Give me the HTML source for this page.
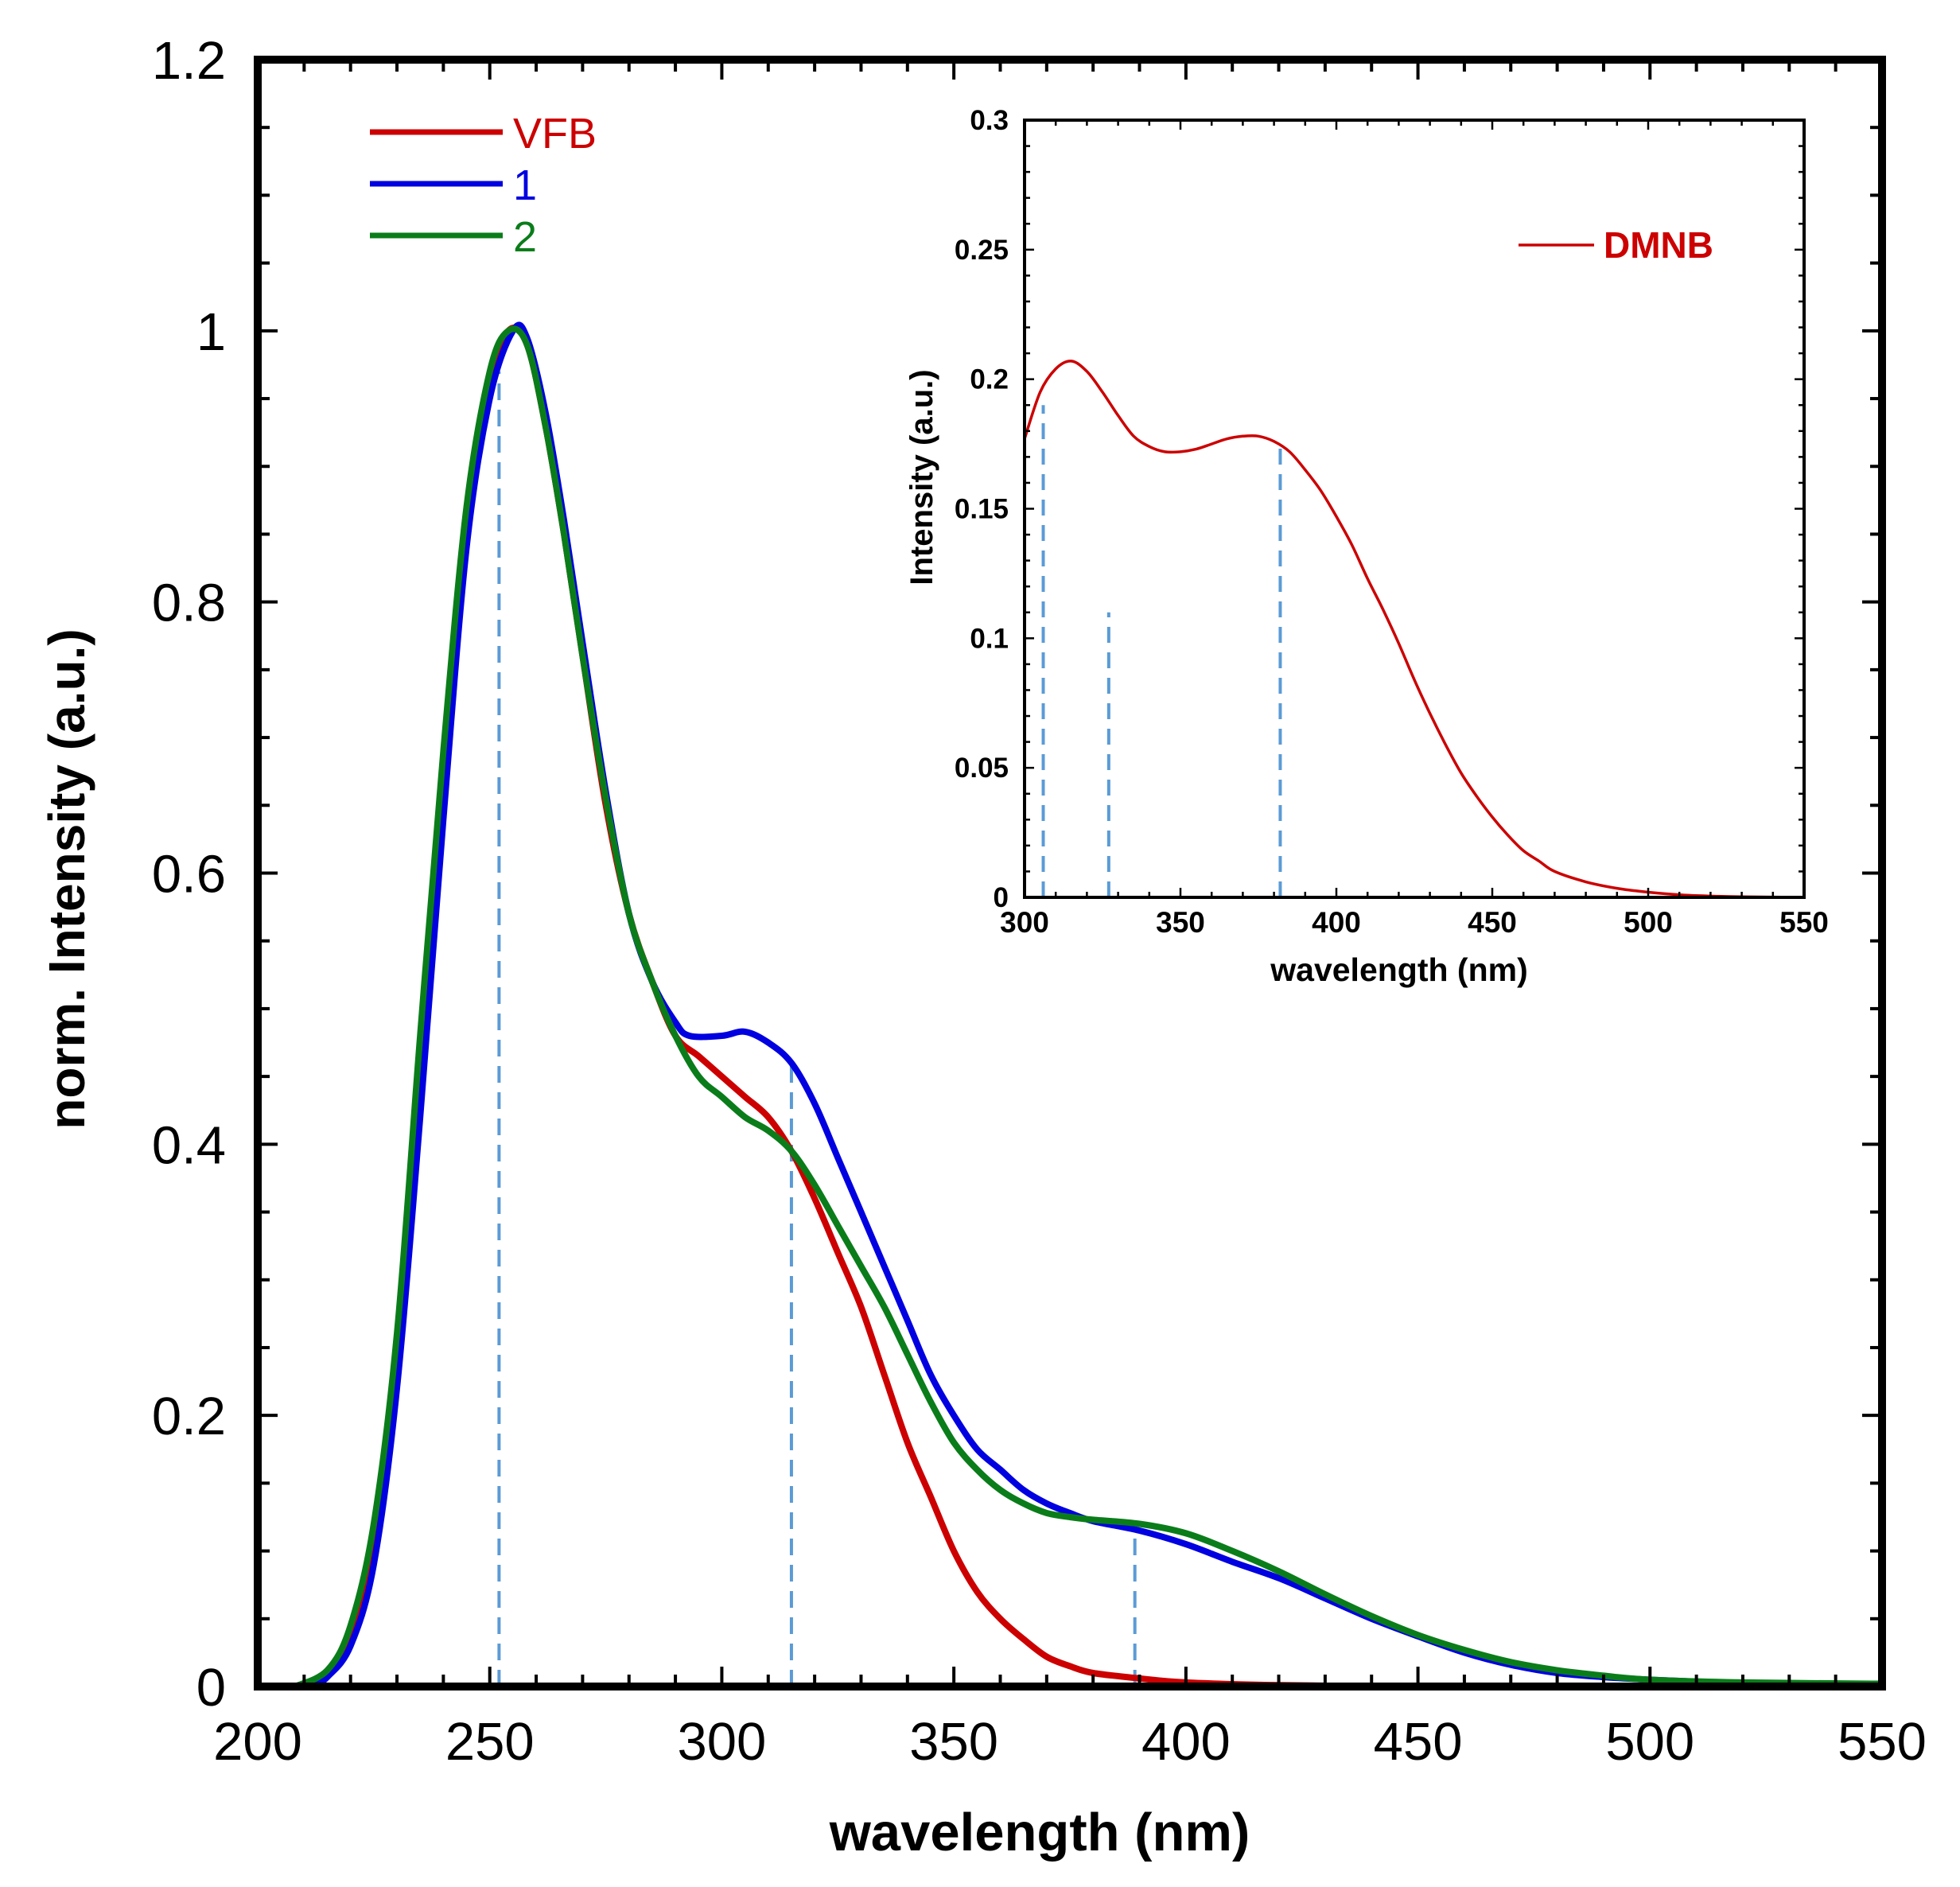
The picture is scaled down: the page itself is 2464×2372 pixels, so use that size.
<!DOCTYPE html>
<html><head><meta charset="utf-8"><style>
html,body{margin:0;padding:0;background:#fff;}
svg{display:block;font-family:"Liberation Sans",Arial,sans-serif;}
</style></head><body>
<svg id="chart" width="2464" height="2372" viewBox="0 0 2464 2372" xmlns="http://www.w3.org/2000/svg">
<g id="main"></g>
<g id="inset"></g>
</svg>
<script>
// ---- main chart data ----
const vfbX = [210,215,220,225,230,235,240,245,250,254,258,262,266,270,275,280,285,290,295,300,305,310,315,320,325,330,335,340,345,350,355,360,365,370,375,380,390,400,420,450];
const vfbY = [0,0.01,0.04,0.11,0.25,0.47,0.68,0.86,0.96,1.0,0.99,0.93,0.85,0.76,0.65,0.57,0.52,0.48,0.465,0.45,0.435,0.42,0.395,0.36,0.32,0.28,0.23,0.18,0.14,0.10,0.07,0.05,0.035,0.022,0.015,0.01,0.006,0.003,0.001,0];
const s1X = [212,215,220,225,230,235,240,245,250,255,258,262,266,270,275,280,285,290,293,300,305,310,315,320,325,330,335,340,345,350,355,360,365,370,375,380,390,400,410,420,430,440,450,460,470,480,490,500,515,530,550];
const s1Y = [0,0.007,0.03,0.09,0.22,0.42,0.64,0.84,0.95,1.0,0.995,0.94,0.86,0.77,0.66,0.57,0.52,0.49,0.48,0.48,0.483,0.475,0.46,0.43,0.39,0.35,0.31,0.27,0.23,0.20,0.175,0.16,0.145,0.135,0.128,0.122,0.115,0.105,0.092,0.08,0.065,0.05,0.037,0.025,0.016,0.01,0.007,0.005,0.003,0.002,0.002];
const s2X = [208,215,220,225,230,235,240,245,250,254,258,262,266,270,275,280,285,290,295,300,305,310,315,320,325,330,335,340,345,350,355,360,365,370,375,380,390,400,410,420,430,440,450,460,470,480,490,500,520,550];
const s2Y = [0,0.012,0.045,0.12,0.26,0.48,0.69,0.87,0.97,1.0,0.99,0.93,0.85,0.76,0.655,0.57,0.52,0.48,0.45,0.435,0.42,0.41,0.395,0.37,0.34,0.31,0.28,0.245,0.21,0.18,0.16,0.145,0.135,0.128,0.125,0.123,0.12,0.113,0.1,0.085,0.068,0.052,0.038,0.027,0.018,0.012,0.008,0.005,0.003,0.002];
const mainDashX = [252,315,389];
const mainDashTop = [0.97,0.46,0.12];
const mainXTicks = [200,250,300,350,400,450,500,550];
const mainYTicks = [0,0.2,0.4,0.6,0.8,1,1.2];
const mainYLabels = ["0","0.2","0.4","0.6","0.8","1","1.2"];
// ---- inset data ----
const dmnbX = [300,305,310,315,320,325,330,335,340,345,350,355,360,365,370,375,380,385,390,395,400,405,410,415,420,425,430,435,440,445,450,455,460,465,470,480,490,500,510,520,530,550];
const dmnbY = [0.177,0.195,0.204,0.207,0.203,0.195,0.186,0.178,0.174,0.172,0.172,0.173,0.175,0.177,0.178,0.178,0.176,0.172,0.165,0.157,0.147,0.136,0.123,0.111,0.098,0.084,0.071,0.059,0.048,0.039,0.031,0.024,0.018,0.014,0.010,0.006,0.0035,0.002,0.001,0.0005,0.0002,0];
const insetDashX = [306,327,382];
const insetDashTop = [0.19,0.11,0.175];
const insetXTicks = [300,350,400,450,500,550];
const insetYTicks = [0,0.05,0.1,0.15,0.2,0.25,0.3];
const insetYLabels = ["0","0.05","0.1","0.15","0.2","0.25","0.3"];

const NS="http://www.w3.org/2000/svg";
function mk(parent,tag,attrs,text){const e=document.createElementNS(NS,tag);for(const k in attrs)e.setAttribute(k,attrs[k]);if(text!==undefined)e.textContent=text;parent.appendChild(e);return e;}
function path(xs,ys,fx,fy){
  const P=xs.map((x,i)=>[fx(x),fy(ys[i])]);
  let d='M'+P[0][0].toFixed(1)+' '+P[0][1].toFixed(1);
  for(let i=0;i<P.length-1;i++){
    const p0=P[Math.max(0,i-1)],p1=P[i],p2=P[i+1],p3=P[Math.min(P.length-1,i+2)];
    const c1=[p1[0]+(p2[0]-p0[0])/6,p1[1]+(p2[1]-p0[1])/6];
    const c2=[p2[0]-(p3[0]-p1[0])/6,p2[1]-(p3[1]-p1[1])/6];
    d+=' C'+c1[0].toFixed(1)+' '+c1[1].toFixed(1)+' '+c2[0].toFixed(1)+' '+c2[1].toFixed(1)+' '+p2[0].toFixed(1)+' '+p2[1].toFixed(1);
  }
  return d;
}

// main axes
const M={l:324,r:2366,t:75,b:2120,x0:200,x1:550,y0:0,y1:1.2};
const mx=v=>M.l+(v-M.x0)/(M.x1-M.x0)*(M.r-M.l);
const my=v=>M.b-(v-M.y0)/(M.y1-M.y0)*(M.b-M.t);
const gm=document.getElementById('main');

mainDashX.forEach((x,i)=>{
  const d=mk(gm,'line',{x1:mx(x),x2:mx(x),y1:my(0),y2:my(mainDashTop[i]),stroke:'#5b9bd5','stroke-width':4,'stroke-dasharray':'21 12'});
  
  
});
[[vfbX,vfbY,'#cc0000','series-vfb'],[s1X,s1Y,'#0000e0','series-1'],[s2X,s2Y,'#0a7d1a','series-2']].forEach(s=>{
  const p=mk(gm,'path',{d:path(s[0],s[1],mx,my),fill:'none',stroke:s[2],'stroke-width':8,'stroke-linejoin':'round'});
  
  
});
const fr=mk(gm,'rect',{x:M.l,y:M.t,width:M.r-M.l,height:M.b-M.t,fill:'none',stroke:'#000','stroke-width':10});


for(let v=200;v<=550;v+=10){
  const maj=(v%50===0),L=maj?25:15;
  mk(gm,'line',{x1:mx(v),x2:mx(v),y1:M.b,y2:M.b-L,stroke:'#000','stroke-width':4});
  mk(gm,'line',{x1:mx(v),x2:mx(v),y1:M.t,y2:M.t+L,stroke:'#000','stroke-width':4});
}
for(let k=0;k<=24;k++){
  const v=k*0.05,maj=(k%4===0),L=maj?25:15;
  mk(gm,'line',{x1:M.l,x2:M.l+L,y1:my(v),y2:my(v),stroke:'#000','stroke-width':4});
  mk(gm,'line',{x1:M.r,x2:M.r-L,y1:my(v),y2:my(v),stroke:'#000','stroke-width':4});
}
mainXTicks.forEach(v=>{
  const t=mk(gm,'text',{x:mx(v),y:2212,'font-size':67,'text-anchor':'middle',fill:'#000'},String(v));
  
  
});
mainYTicks.forEach((v,i)=>{
  const t=mk(gm,'text',{x:284,y:my(v)+24,'font-size':67,'text-anchor':'end',fill:'#000'},mainYLabels[i]);
  
  
});
let t=mk(gm,'text',{x:1307,y:2326,'font-size':67,'font-weight':'bold','text-anchor':'middle'},'wavelength (nm)');


t=mk(gm,'text',{x:0,y:0,'font-size':64,'font-weight':'bold','text-anchor':'middle',transform:'translate(106,1105) rotate(-90)'},'norm. Intensity  (a.u.)');


[['VFB','#cc0000',166],['1','#0000e0',231],['2','#0a7d1a',296]].forEach(e=>{
  const g=mk(gm,'g',{});
  
  
  mk(g,'line',{x1:465,x2:632,y1:e[2],y2:e[2],stroke:e[1],'stroke-width':7});
  mk(g,'text',{x:645,y:e[2]+20,'font-size':54,fill:e[1]},e[0]);
});

// inset
const I={l:1288,r:2268,t:151,b:1128,x0:300,x1:550,y0:0,y1:0.3};
const ix=v=>I.l+(v-I.x0)/(I.x1-I.x0)*(I.r-I.l);
const iy=v=>I.b-(v-I.y0)/(I.y1-I.y0)*(I.b-I.t);
const gi=document.getElementById('inset');
mk(gi,'rect',{x:I.l,y:I.t,width:I.r-I.l,height:I.b-I.t,fill:'#fff',stroke:'none'});
insetDashX.forEach((x,i)=>{
  const d=mk(gi,'line',{x1:ix(x),x2:ix(x),y1:iy(0),y2:iy(insetDashTop[i]),stroke:'#5b9bd5','stroke-width':4,'stroke-dasharray':'20 12'});
  
  
});
const dp=mk(gi,'path',{d:path(dmnbX,dmnbY,ix,iy),fill:'none',stroke:'#cc0000','stroke-width':3.5,'stroke-linejoin':'round'});


const ifr=mk(gi,'rect',{x:I.l,y:I.t,width:I.r-I.l,height:I.b-I.t,fill:'none',stroke:'#000','stroke-width':4});


for(let v=300;v<=550;v+=10){
  const L=(v%50===0)?12:7;
  mk(gi,'line',{x1:ix(v),x2:ix(v),y1:I.b,y2:I.b-L,stroke:'#000','stroke-width':2.5});
  mk(gi,'line',{x1:ix(v),x2:ix(v),y1:I.t,y2:I.t+L,stroke:'#000','stroke-width':2.5});
}
for(let k=0;k<=30;k++){
  const v=k*0.01,L=(k%5===0)?12:7;
  mk(gi,'line',{x1:I.l,x2:I.l+L,y1:iy(v),y2:iy(v),stroke:'#000','stroke-width':2.5});
  mk(gi,'line',{x1:I.r,x2:I.r-L,y1:iy(v),y2:iy(v),stroke:'#000','stroke-width':2.5});
}
insetXTicks.forEach(v=>{
  const t=mk(gi,'text',{x:ix(v),y:1172,'font-size':37,'font-weight':'bold','text-anchor':'middle'},String(v));
  
  
});
insetYTicks.forEach((v,i)=>{
  const t=mk(gi,'text',{x:1268,y:iy(v)+12,'font-size':35,'font-weight':'bold','text-anchor':'end'},insetYLabels[i]);
  
  
});
t=mk(gi,'text',{x:1759,y:1233,'font-size':41,'font-weight':'bold','text-anchor':'middle'},'wavelength (nm)');


t=mk(gi,'text',{x:0,y:0,'font-size':40,'font-weight':'bold','text-anchor':'middle',transform:'translate(1172,600) rotate(-90)'},'Intensity (a.u.)');


const lg=mk(gi,'g',{});


mk(lg,'line',{x1:1909,x2:2004,y1:308,y2:308,stroke:'#cc0000','stroke-width':3.5});
mk(lg,'text',{x:2016,y:324,'font-size':46,'font-weight':'bold',fill:'#cc0000'},'DMNB');
</script>
</body></html>
